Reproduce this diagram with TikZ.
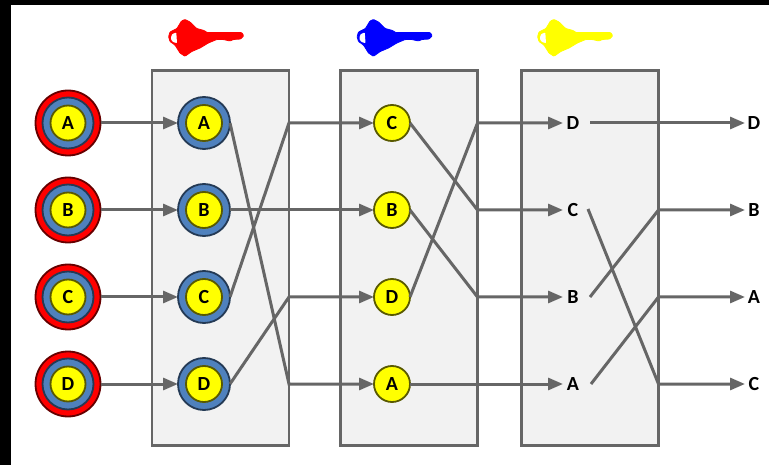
\documentclass[tikz,border=0pt]{standalone}
\usepackage{fontspec}
\setmainfont{Carlito}[BoldFont={Carlito Bold}]
\usetikzlibrary{arrows.meta}
\definecolor{wiregray}{HTML}{666666}
\definecolor{panelfill}{HTML}{F2F2F2}
\definecolor{steel}{HTML}{4F81BD}
\definecolor{pureyellow}{HTML}{FFFF00}
\definecolor{purered}{HTML}{FF0000}
\definecolor{pureblue}{HTML}{0000FF}
\tikzset{
  x=1pt,y=-1pt,
  every node/.style={font=\bfseries\fontsize{20}{20}\selectfont,text=black,inner sep=0pt,outer sep=0pt},
  panel/.style={draw=wiregray,fill=panelfill,line width=2.6pt,rectangle,minimum width=137pt,minimum height=375pt},
  disc/.style={circle,draw=#1,line width=1.8pt},
  redring/.style={disc=purered!40!black,fill=purered,minimum size=65pt},
  bluering/.style={disc=steel!45!black,fill=steel,minimum size=51pt},
  bluemid/.style={disc=steel!45!black,fill=steel,minimum size=52pt},
  yellowdot/.style={disc=pureyellow!35!black,fill=pureyellow,minimum size=36pt},
  plainlabel/.style={minimum width=20pt,minimum height=20pt},
  wire/.style={draw=wiregray,line width=3pt,line join=miter},
  arrowwire/.style={wire,-{Triangle[length=15pt,width=12pt]}},
  keypic/.pic={
    \fill[#1,draw=#1,line width=0.8pt,rounded corners=0.8pt]
      (168.6,36.7) -- (170,32) -- (177,28.5) -- (181.5,21) -- (185,19.5) -- (190,22) -- (196.7,28.5)
      -- (204,30.5) -- (207.3,32.6) -- (241.7,32.6) -- (243.7,35.7) -- (240.7,39) -- (233.3,39.5)
      -- (230,41) -- (223.3,39.5) -- (216.7,39.5) -- (208.3,43)
      -- (200,48) -- (191.7,51.5) -- (185,56.3) -- (180,53) -- (175,45) -- (170,41.5) -- cycle;
    \fill[white,rounded corners=0.8pt]
      (171,37) -- (172.3,34) -- (176.3,32.5) -- (177,43.2) -- (173,42) -- (171,39.5) -- cycle;
  }
}
\begin{document}
\begin{tikzpicture}
\useasboundingbox (0,0) rectangle (769,465);
\fill[white] (0,0) rectangle (769,465);
\fill[black] (0,0) rectangle (769,5);
\fill[black] (0,0) rectangle (11,465);

\pic at (0,0) {keypic=purered};
\pic at (188.5,0) {keypic=pureblue};
\pic at (369,0) {keypic=pureyellow};

\node[panel] (panelA) at (220.5,257.8) {};
\node[panel] (panelB) at (409,257.8) {};
\node[panel] (panelC) at (590,257.8) {};

% junctions on panel edges
\foreach \r/\y in {1/123,2/210,3/297,4/384}{
  \coordinate (ja\r) at (289,\y);
  \coordinate (jb\r) at (477.5,\y);
  \coordinate (jc\r) at (658.5,\y);
}

% nodes
\foreach \n/\y in {A/123,B/210,C/297,D/384}{
  \node[redring] (ro\n) at (68,\y) {};
  \node[bluering] (bo\n) at (68,\y) {};
  \node[yellowdot,minimum size=35pt] (yo\n) at (68,\y) {\n};
  \node[bluemid] (bm\n) at (204,\y) {};
  \node[yellowdot] (ym\n) at (204,\y) {\n};
}
\foreach \n/\y in {C/123,B/210,D/297,A/384}{
  \node[yellowdot] (yr\n) at (392,\y) {\n};
}
\foreach \n/\y in {D/123,C/210,B/297,A/384}{
  \node[plainlabel] (lt\n) at (573,\y) {\n};
}
\foreach \n/\y in {D/123,B/210,A/297,C/384}{
  \node[plainlabel,minimum width=18pt] (out\n) at (754,\y) {\n};
}

% connectors
\foreach \n in {A,B,C,D}{
  \draw[arrowwire] (ro\n.east) -- (bm\n.west);
}
\draw[arrowwire] (bmA.east) -- (ja4) -- (yrA.west);
\draw[arrowwire] (bmB.east) -- (yrB.west);
\draw[arrowwire] (bmC.east) -- (ja1) -- (yrC.west);
\draw[arrowwire] (bmD.east) -- (ja3) -- (yrD.west);

\draw[arrowwire] (yrC.east) -- (jb2) -- (ltC.west);
\draw[arrowwire] (yrB.east) -- (jb3) -- (ltB.west);
\draw[arrowwire] (yrD.east) -- (jb1) -- (ltD.west);
\draw[arrowwire] (yrA.east) -- (ltA.west);

\draw[arrowwire] ([xshift=7pt]ltD.east) -- (outD.west);
\draw[arrowwire] ([xshift=5pt,yshift=1pt]ltC.east) -- (jc4) -- (outC.west);
\draw[arrowwire] ([xshift=7pt]ltB.east) -- (jc2) -- (outB.west);
\draw[arrowwire] ([xshift=8pt]ltA.east) -- (jc3) -- (outA.west);
\end{tikzpicture}
\end{document}
